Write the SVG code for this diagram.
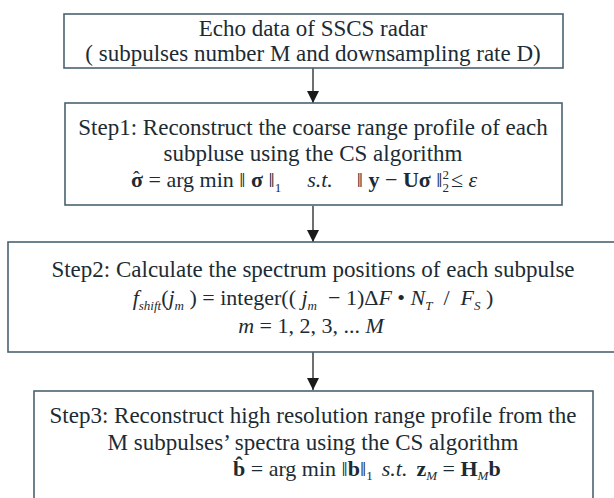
<svg xmlns="http://www.w3.org/2000/svg" width="614" height="498" viewBox="0 0 614 498">
<style>
.box{fill:#ffffff;stroke:#4a6372;stroke-width:1.6}
.t{font-family:"Liberation Serif","Times New Roman",serif;font-size:23px;fill:#1c2b33;text-anchor:middle}
.f{font-family:"Liberation Serif","Times New Roman",serif;font-size:22px;fill:#1c2b33}
.b{font-weight:bold}
.i{font-style:italic}
.s{font-size:13px}
.conn{stroke:#222;stroke-width:1.3;fill:none}
</style>
<defs>
<marker id="ah" markerUnits="userSpaceOnUse" markerWidth="12" markerHeight="12" viewBox="0 0 12 12" refX="12" refY="6" orient="auto">
<path d="M0,0 L12,6 L0,12 Z" fill="#1a1a1a"/>
</marker>
</defs>
<rect width="614" height="498" fill="#ffffff"/>
<g id="connectors">
<line class="conn" x1="313" y1="68" x2="313" y2="103" marker-end="url(#ah)"/>
<line class="conn" x1="313" y1="206" x2="313" y2="242" marker-end="url(#ah)"/>
<line class="conn" x1="313" y1="352" x2="313" y2="390" marker-end="url(#ah)"/>
</g>
<g id="node-echo">
<rect class="box" x="64" y="14" width="499" height="54"/>
<text class="t" x="313" y="36">Echo data of SSCS radar</text>
<text class="t" x="313" y="61">( subpulses number M and downsampling rate D)</text>
</g>
<g id="node-step1">
<rect class="box" x="65" y="103" width="497" height="102"/>
<text class="t" x="313" y="135">Step1: Reconstruct the coarse range profile of each</text>
<text class="t" x="313" y="161">subpluse using the CS algorithm</text>
<text class="f" x="133" y="186" font-size="23"><tspan font-size="20">ˆ</tspan><tspan x="131" y="187" class="b">σ</tspan> = arg min ‖ <tspan class="b">σ</tspan> ‖<tspan class="s" dy="5">1</tspan><tspan dy="-5" dx="26" class="i">s.t.</tspan><tspan dx="24">‖ </tspan><tspan class="b">y</tspan> − <tspan class="b">Uσ</tspan> ‖<tspan class="s" dy="5">2</tspan><tspan class="s" dx="-6.5" dy="-13">2</tspan><tspan dy="8" dx="2">≤ </tspan><tspan class="i">ε</tspan></text>
</g>
<g id="node-step2">
<rect class="box" x="8" y="242" width="610" height="110"/>
<text class="t" x="313" y="277">Step2: Calculate the spectrum positions of each subpulse</text>
<text class="f" x="313" y="305" text-anchor="middle" font-size="23" xml:space="preserve"><tspan class="i">f</tspan><tspan class="s i" dy="5">shift</tspan><tspan dy="-5">(</tspan><tspan class="i">j</tspan><tspan class="s i" dy="5">m</tspan><tspan dy="-5"> ) = integer(( </tspan><tspan class="i">j</tspan><tspan class="s i" dy="5">m</tspan><tspan dy="-5">  − 1)Δ</tspan><tspan class="i">F</tspan> • <tspan class="i">N</tspan><tspan class="s i" dy="5">T</tspan><tspan dy="-5">  /  </tspan><tspan class="i">F</tspan><tspan class="s i" dy="5">S</tspan><tspan dy="-5"> )</tspan></text>
<text class="f" x="311" y="333" text-anchor="middle"><tspan class="i">m</tspan> = 1, 2, 3, ... <tspan class="i">M</tspan></text>
</g>
<g id="node-step3">
<rect class="box" x="34" y="391" width="559" height="110"/>
<text class="t" x="313" y="423">Step3: Reconstruct high resolution range profile from the</text>
<text class="t" x="313" y="450">M subpulses’ spectra using the CS algorithm</text>
<text class="f" x="233" y="476" font-size="19"><tspan class="b">b̂</tspan> = arg min ‖<tspan class="b">b</tspan>‖<tspan class="s" dy="4">1</tspan><tspan dy="-4" dx="9" class="i">s.t.</tspan><tspan dx="9" class="b">z</tspan><tspan class="s i" dy="4">M</tspan><tspan dy="-4"> = </tspan><tspan class="b">H</tspan><tspan class="s i" dy="4">M</tspan><tspan dy="-4" class="b">b</tspan></text>
</g>
</svg>
